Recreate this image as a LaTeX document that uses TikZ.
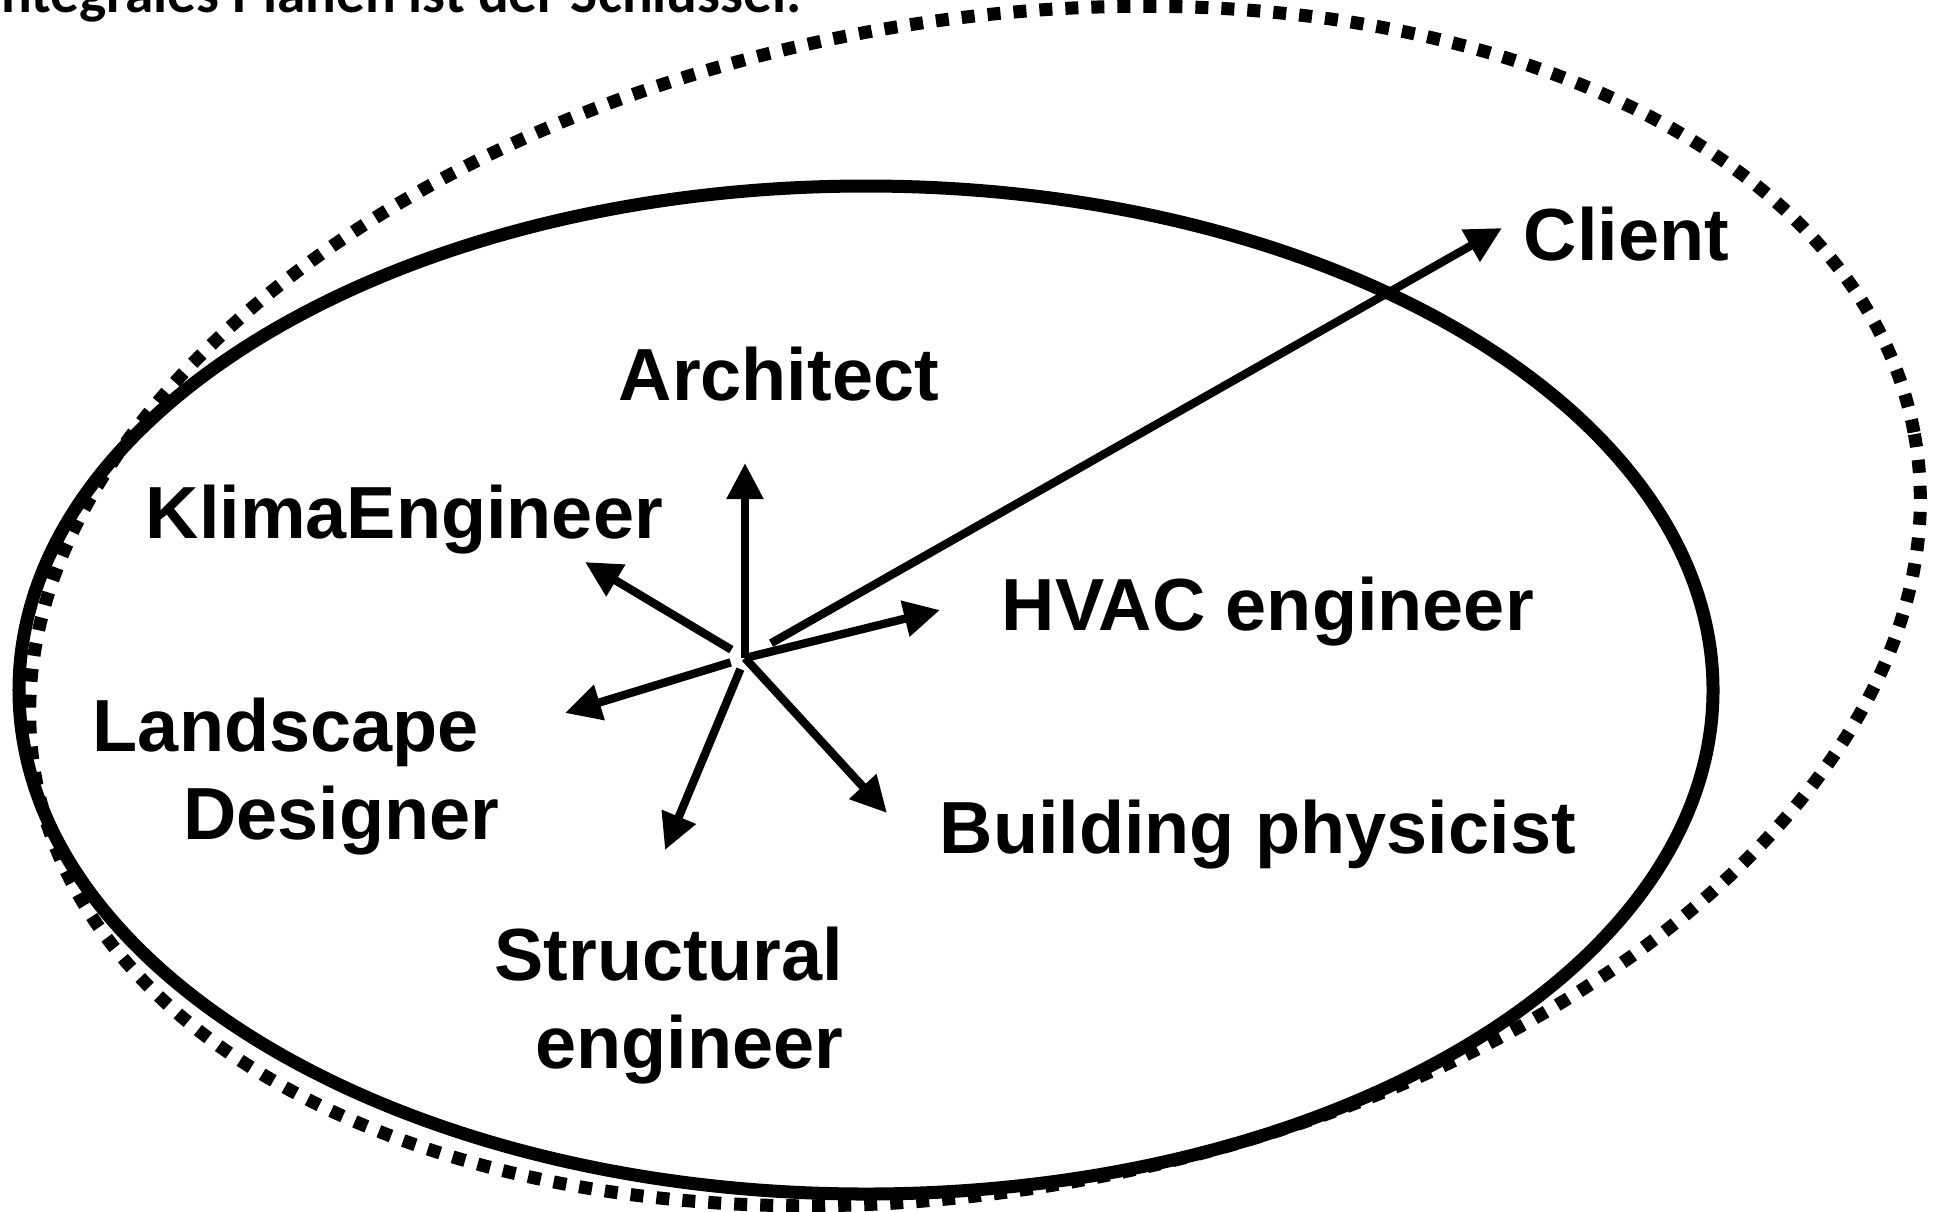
\documentclass[tikz,border=0pt]{standalone}
\usepackage{fontspec}
\setmainfont{Liberation Sans}
\newfontfamily\headfont{Carlito}
\usetikzlibrary{arrows.meta}

\begin{document}
\begin{tikzpicture}[
    x=0.01cm, y=-0.01cm,
    ring/.style={draw=black, line width=0.13cm},
    halo/.style={draw=black, line width=0.13cm, dash pattern=on 0.13cm off 0.13cm},
    spoke/.style={draw=black, line width=0.083cm, -{Triangle[length=0.36cm,width=0.35cm]}},
    role/.style={inner sep=0pt, anchor=base west, font=\bfseries\fontsize{21}{25}\selectfont}
]

\useasboundingbox (0,0) rectangle (1937,1211);
\clip (0,0) rectangle (1937,1211);

\node[inner sep=0pt, anchor=base west, font=\headfont\bfseries\fontsize{16.3}{20}\selectfont] (title) at (-15,12) {Integrales Planen ist der Schlüssel.};

\draw[ring] (866,690) ellipse (847 and 504);
\draw[halo, rotate around={10.37:(975,606)}] (975,606) ellipse (955 and 584);

\node[role] (client) at (1523,260) {Client};
\node[role] (architect) at (618,400) {Architect};
\node[role] (klima) at (145,538) {KlimaEngineer};
\node[role] (hvac) at (1001,630) {HVAC engineer};
\node[role] (physicist) at (939,853) {Building physicist};
\node[role, anchor=base east, align=right] (landscape) at (500,839) {Landscape\kern.28em\\Designer};
\node[role, anchor=base east, align=right] (structural) at (844,1068) {Structural\\engineer};

\coordinate (hub) at (745,658);
\coordinate (archTip) at (745,463);
\coordinate (klimaTip) at (585,562);
\coordinate (clientTip) at (1502,228);
\coordinate (hvacTip) at (940,610);
\coordinate (landTip) at (565,713);
\coordinate (structTip) at (665,850);
\coordinate (physTip) at (887,813);

\foreach \tip/\gap in {archTip/0, klimaTip/0.16, clientTip/0.3, hvacTip/0,
                       landTip/0.15, structTip/0.12, physTip/0}{
  \draw[spoke, shorten <=\gap cm] (hub) -- (\tip);
}

\end{tikzpicture}
\end{document}
